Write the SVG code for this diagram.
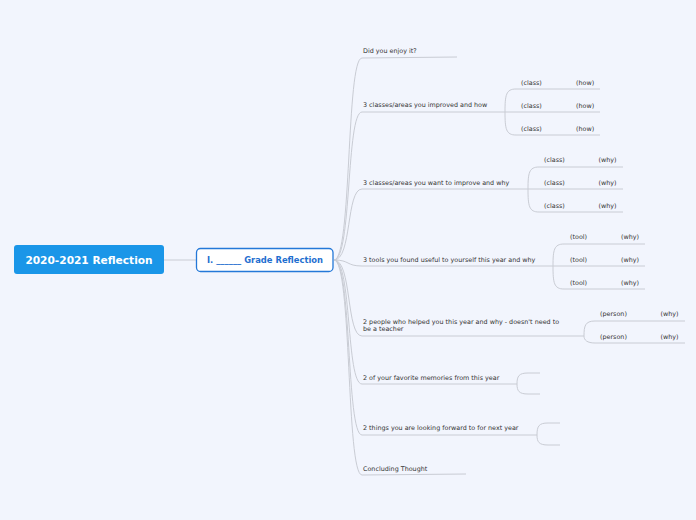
<svg xmlns="http://www.w3.org/2000/svg" width="696" height="520" viewBox="0 0 696 520">
<style>
.bg{fill:#f2f5fd}
.c{fill:none;stroke:#c9ccd4;stroke-width:1}
.t{font-family:"DejaVu Sans","Verdana",sans-serif;font-size:6.4px;fill:#333}
.root{fill:#1a96e8}
.rt{font-family:"DejaVu Sans",sans-serif;font-weight:bold;font-size:10.6px;fill:#fff}
.main{fill:#fff;stroke:#2478d8;stroke-width:1.3}
.mt{font-family:"DejaVu Sans",sans-serif;font-weight:bold;font-size:8.4px;fill:#1f6fd0}
</style>
<rect class="bg" x="0" y="0" width="696" height="520"/>
<g id="connectors">
<path class="c" d="M164,260 L196,260"/>
<path class="c" d="M334,260 C352,260 346,58 362,58 L457,57"/>
<path class="c" d="M334,260 C352,260 346,112 362,112 L505,112"/>
<path class="c" d="M334,260 C352,260 346,189 362,189 L528,189"/>
<path class="c" d="M334,260 C350,260 346,266 362,266 L553,266"/>
<path class="c" d="M334,260 C352,260 346,336 362,336 L584,336"/>
<path class="c" d="M334,260 C352,260 346,384 362,384 L517,384"/>
<path class="c" d="M334,260 C352,260 346,435 362,435 L537,435"/>
<path class="c" d="M334,260 C352,260 346,475 362,475 L466,474"/>
<path class="c" d="M505,112 C505,95 506,89 516,89 L600,89 M505,112 L600,112 M505,112 C505,129 506,135 516,135 L600,135"/>
<path class="c" d="M528,189 C528,173 529,167 539,167 L623,167 M528,189 L623,189 M528,189 C528,206 529,212 539,212 L623,212"/>
<path class="c" d="M553,266 C553,250 554,244 564,244 L645,244 M553,266 L645,266 M553,266 C553,283 554,289 564,289 L645,289"/>
<path class="c" d="M584,336 C584,326 585,321 595,321 L685,321 M584,336 C584,340 587,343 595,343 L685,343"/>
<path class="c" d="M517,384 C517,376 519,373 528,373 L540,373 M517,384 C517,391 519,394 528,394 L540,394"/>
<path class="c" d="M537,435 C537,426 539,423 548,423 L560,423 M537,435 C537,442 539,445 548,445 L560,445"/>
</g>
<g id="root">
<rect class="root" x="14" y="245" width="150" height="29" rx="3"/>
<text class="rt" x="89" y="263.8" text-anchor="middle">2020-2021 Reflection</text>
</g>
<g id="main">
<rect class="main" x="196.5" y="248.5" width="136.5" height="23" rx="4"/>
<text class="mt" x="265" y="263.2" text-anchor="middle">I. ______ Grade Reflection</text>
</g>
<g id="t1"><text class="t" x="363" y="53.3">Did you enjoy it?</text></g>
<g id="t2"><text class="t" x="363" y="107.3">3 classes/areas you improved and how</text></g>
<g id="t2a"><text class="t" x="521" y="85">(class)</text><text class="t" x="576" y="85">(how)</text></g>
<g id="t2b"><text class="t" x="521" y="108">(class)</text><text class="t" x="576" y="108">(how)</text></g>
<g id="t2c"><text class="t" x="521" y="131">(class)</text><text class="t" x="576" y="131">(how)</text></g>
<g id="t3"><text class="t" x="363" y="185">3 classes/areas you want to improve and why</text></g>
<g id="t3a"><text class="t" x="544" y="162">(class)</text><text class="t" x="598.5" y="162">(why)</text></g>
<g id="t3b"><text class="t" x="544" y="185">(class)</text><text class="t" x="598.5" y="185">(why)</text></g>
<g id="t3c"><text class="t" x="544" y="208">(class)</text><text class="t" x="598.5" y="208">(why)</text></g>
<g id="t4"><text class="t" x="363" y="262">3 tools you found useful to yourself this year and why</text></g>
<g id="t4a"><text class="t" x="570" y="239">(tool)</text><text class="t" x="621" y="239">(why)</text></g>
<g id="t4b"><text class="t" x="570" y="262">(tool)</text><text class="t" x="621" y="262">(why)</text></g>
<g id="t4c"><text class="t" x="570" y="285">(tool)</text><text class="t" x="621" y="285">(why)</text></g>
<g id="t5"><text class="t" x="363" y="323.5">2 people who helped you this year and why - doesn't need to</text><text class="t" x="363" y="331">be a teacher</text></g>
<g id="t5a"><text class="t" x="600" y="315.5">(person)</text><text class="t" x="660.5" y="315.5">(why)</text></g>
<g id="t5b"><text class="t" x="600" y="339">(person)</text><text class="t" x="660.5" y="339">(why)</text></g>
<g id="t6"><text class="t" x="363" y="380">2 of your favorite memories from this year</text></g>
<g id="t7"><text class="t" x="363" y="430">2 things you are looking forward to for next year</text></g>
<g id="t8"><text class="t" x="363" y="470.5">Concluding Thought</text></g>
</svg>
